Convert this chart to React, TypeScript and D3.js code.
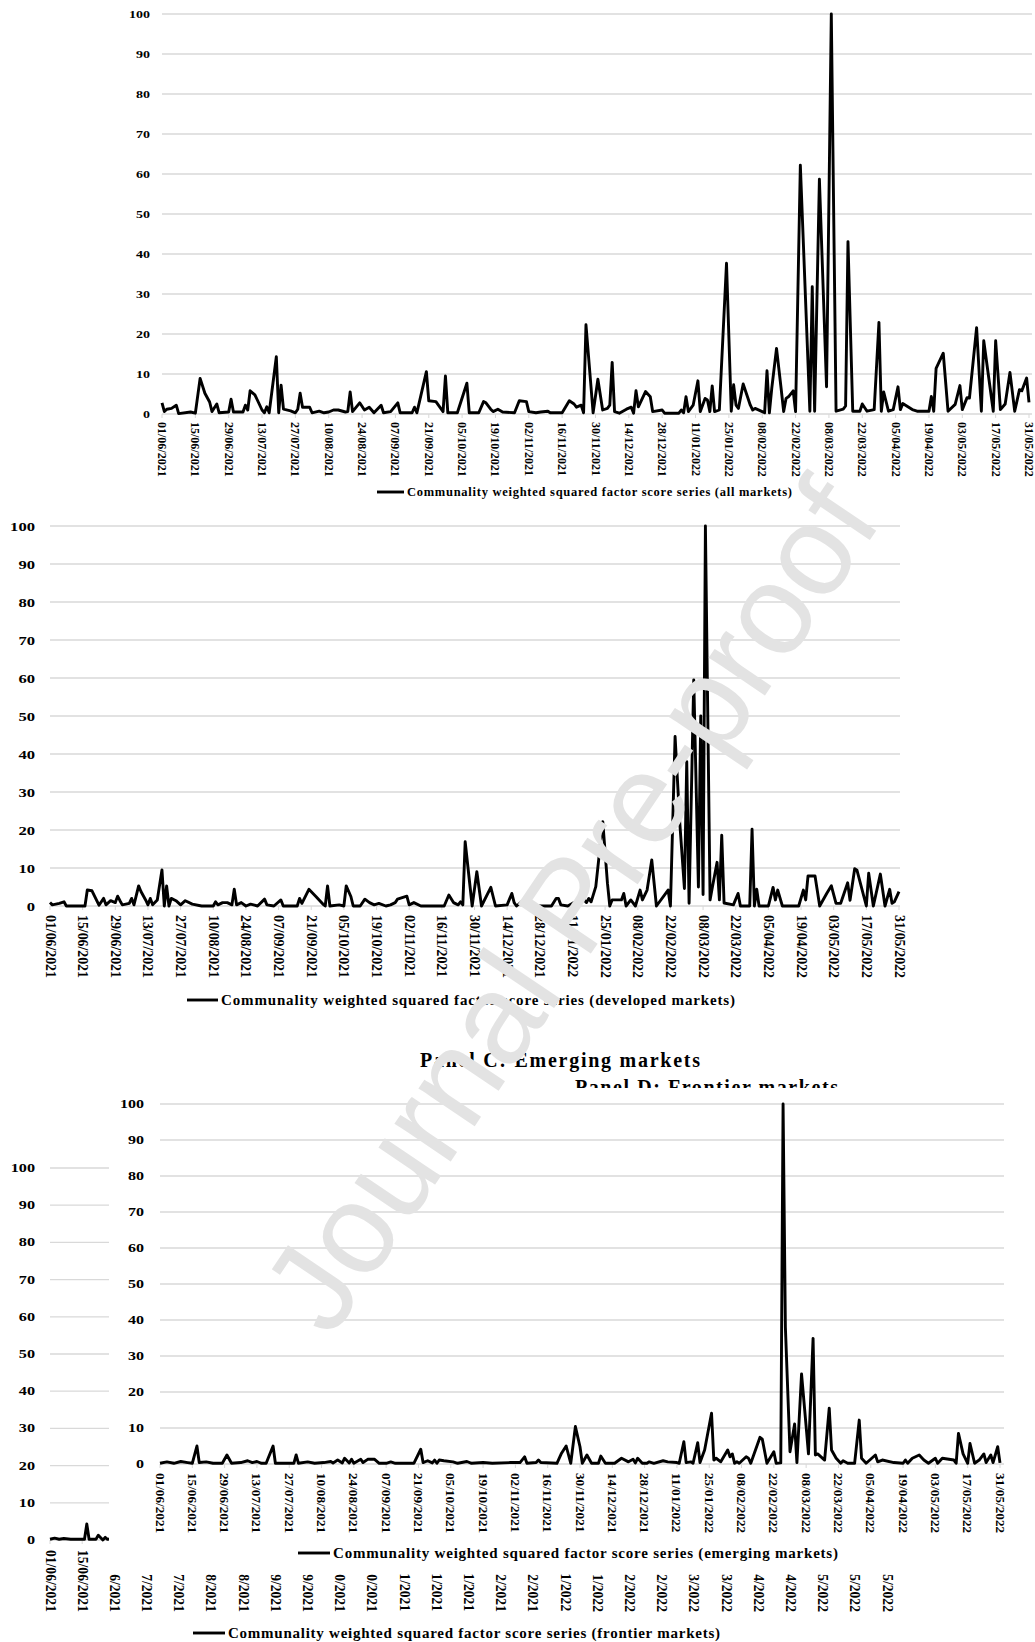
import React from 'react';
import * as d3 from 'd3';

// x-axis category labels, one every 14 days from 01/06/2021
const tickLabels = [
  '01/06/2021', '15/06/2021', '29/06/2021', '13/07/2021', '27/07/2021', '10/08/2021',
  '24/08/2021', '07/09/2021', '21/09/2021', '05/10/2021', '19/10/2021', '02/11/2021',
  '16/11/2021', '30/11/2021', '14/12/2021', '28/12/2021', '11/01/2022', '25/01/2022',
  '08/02/2022', '22/02/2022', '08/03/2022', '22/03/2022', '05/04/2022', '19/04/2022',
  '03/05/2022', '17/05/2022', '31/05/2022',
];
const yTicks = [0, 10, 20, 30, 40, 50, 60, 70, 80, 90, 100];

// [day since 01/06/2021, value]
const allMarkets: [number, number][] = [
  [0, 2.8], [1, 0.6], [2, 1.2], [4, 1.4], [6, 2.2], [7, 0.1], [12, 0.5], [14, 0.2], [16, 8.9], [18, 5.2],
  [20, 3], [21, 0.6], [23, 2.5], [24, 0.3], [28, 0.5], [29, 3.7], [30, 0.5], [34, 0.5], [35, 2.2], [36, 1],
  [37, 5.8], [39, 4.8], [42, 1], [43, 0.3], [44, 1.8], [45, 0.3], [48, 14.3], [49, 0.3], [50, 7.2], [51, 1.2],
  [54, 0.8], [56, 0.3], [57, 1.2], [58, 5.2], [59, 1.7], [62, 1.7], [63, 0.3], [66, 0.7], [68, 0.3], [70, 0.5],
  [72, 1], [74, 1], [77, 0.5], [78, 0.6], [79, 5.5], [80, 0.6], [83, 2.8], [85, 1], [87, 1.7], [89, 0.3],
  [92, 2.2], [93, 0.3], [96, 0.6], [99, 2.8], [100, 0.3], [105, 0.3], [106, 1.7], [107, 0.3], [111, 10.6], [112, 3.3],
  [115, 3.1], [118, 0.6], [119, 9.5], [120, 0.3], [124, 0.3], [128, 7.7], [129, 0.3], [133, 0.3], [135, 3.1], [136, 2.8],
  [138, 1.2], [139, 0.6], [141, 1.2], [143, 0.5], [148, 0.3], [150, 3.3], [153, 3.1], [154, 0.6], [157, 0.3], [159, 0.5],
  [162, 0.7], [163, 0.3], [168, 0.3], [171, 3.3], [173, 2.5], [174, 1.7], [176, 2.2], [177, 0.3], [178, 22.3], [181, 0.3],
  [183, 8.7], [185, 1], [187, 1.4], [188, 2.2], [189, 12.9], [190, 0.6], [192, 0.2], [195, 1.2], [197, 1.7], [198, 0.2],
  [199, 5.8], [200, 1.8], [203, 5.6], [205, 4.3], [206, 0.6], [210, 1], [211, 0.2], [217, 0.2], [218, 1], [219, 0.3],
  [220, 4.3], [221, 0.6], [223, 2.2], [225, 8.3], [226, 0.6], [228, 3.9], [229, 3.5], [230, 0.6], [231, 7], [232, 0.6],
  [234, 1], [237, 37.7], [239, 0.7], [240, 7.3], [241, 2.2], [242, 1.4], [244, 7.5], [247, 2.2], [248, 1], [249, 1.4],
  [252, 0.6], [253, 0.3], [254, 10.8], [255, 0.3], [256, 6.4], [258, 16.4], [260, 6], [261, 0.6], [262, 3.9], [263, 4.3],
  [265, 5.8], [266, 0.6], [268, 62.2], [272, 0.7], [273, 31.8], [274, 0.7], [276, 58.7], [279, 6.8], [281, 100], [283, 0.7],
  [286, 1.2], [287, 2], [288, 43.1], [290, 0.7], [293, 0.7], [294, 2.5], [296, 0.7], [299, 1.1], [301, 22.9], [302, 0.7],
  [303, 5.5], [305, 0.7], [307, 1.1], [309, 6.8], [310, 1.1], [311, 2.6], [315, 1.1], [317, 0.7], [322, 0.7], [323, 4.4],
  [324, 0.7], [325, 11.4], [328, 15.2], [330, 0.7], [333, 2.4], [335, 7.1], [336, 1.1], [338, 4.1], [339, 4], [342, 21.6],
  [344, 0.7], [345, 18.3], [349, 0.7], [350, 18.3], [352, 1.1], [354, 2.5], [356, 10.4], [358, 0.7], [360, 6.1], [361, 5.8],
  [363, 9], [364, 2.9],
];

const developedMarkets: [number, number][] = [
  [0, 0.9], [1, 0.3], [4, 0.7], [6, 1.1], [7, 0], [15, 0], [16, 4.2], [18, 4], [21, 0.2], [23, 2],
  [24, 0.3], [26, 1.4], [28, 0.9], [29, 2.6], [30, 1.4], [31, 0.3], [34, 0.7], [35, 2], [36, 0.3], [38, 5.3],
  [39, 3.8], [41, 1.6], [42, 0.3], [43, 2], [44, 0.3], [46, 1.6], [48, 9.5], [49, 0], [50, 5.3], [51, 0],
  [52, 2], [54, 1.4], [56, 0.3], [58, 1.4], [61, 0.5], [65, 0], [70, 0], [71, 1.1], [72, 0.3], [74, 0.9],
  [76, 0.9], [78, 0.3], [79, 4.4], [80, 0.3], [82, 0.9], [84, 0], [86, 0.5], [89, 0], [92, 1.8], [93, 0.3],
  [96, 0], [99, 1.6], [100, 0], [106, 0], [107, 2], [108, 0.7], [111, 4.4], [114, 2.5], [117, 0.5], [118, 0],
  [119, 5.3], [120, 0], [124, 0.3], [126, 0], [127, 5.3], [129, 2.5], [130, 0], [133, 0], [135, 1.8], [137, 0.9],
  [139, 0.3], [141, 0.7], [144, 0], [146, 0.3], [148, 0.9], [149, 1.8], [153, 2.6], [154, 0.3], [156, 0.9], [159, 0],
  [169, 0], [171, 2.9], [173, 0.9], [175, 0.3], [176, 1.1], [177, 0.3], [178, 16.9], [181, 0], [183, 9], [185, 0],
  [189, 4.9], [191, 0], [196, 0.3], [198, 3.3], [199, 0.9], [200, 0], [204, 2], [206, 0.5], [209, 0], [215, 0],
  [217, 2], [218, 2], [219, 0.3], [222, 0], [226, 1.4], [227, 0.9], [229, 1.6], [230, 0.9], [231, 2], [232, 1.1],
  [234, 5.1], [237, 22.2], [239, 6], [240, 0], [241, 1.6], [245, 1.6], [246, 3.3], [247, 0], [249, 1.6], [251, 0],
  [253, 4.2], [254, 1.6], [256, 4.2], [258, 12.1], [260, 0], [265, 4.2], [266, 0], [268, 44.6], [270, 22], [272, 4.6],
  [273, 38], [274, 0.7], [276, 59.5], [278, 5], [279, 50], [280, 3], [281, 100], [283, 1.6], [284, 5], [286, 11.5],
  [287, 1.6], [288, 18.6], [289, 0.8], [293, 0.3], [295, 3.3], [296, 0], [300, 0], [301, 20.2], [302, 0], [303, 4.4],
  [304, 0], [308, 0], [310, 4.9], [311, 1.6], [312, 4.2], [314, 0], [321, 0], [323, 4.2], [324, 1.6], [325, 7.9],
  [328, 7.9], [330, 0], [333, 3.3], [335, 5.3], [337, 0.7], [339, 0.7], [342, 6.1], [343, 1.5], [345, 9.8], [346, 9.4],
  [350, 0], [351, 8.6], [353, 0], [356, 8.4], [358, 0], [360, 4.4], [361, 0.7], [362, 1.1], [364, 3.8],
];

const emergingMarkets: [number, number][] = [
  [0, 0.2], [3, 0.6], [6, 0.2], [9, 0.7], [12, 0.4], [14, 0.2], [16, 5], [17, 0.4], [20, 0.6], [23, 0.2],
  [27, 0.2], [29, 2.5], [31, 0.2], [35, 0.4], [38, 0.9], [40, 0.4], [42, 0.7], [44, 0.2], [46, 0.2], [49, 5],
  [50, 0.2], [58, 0.2], [59, 2.5], [60, 0.2], [64, 0.6], [67, 0.2], [71, 0.4], [74, 0.7], [75, 0.3], [77, 1.1],
  [79, 0.3], [80, 1.6], [82, 0.3], [83, 1.3], [84, 0.2], [87, 1.3], [88, 0.4], [90, 1.3], [93, 1.3], [95, 0.2],
  [98, 0.2], [100, 0.6], [102, 0.2], [110, 0.2], [113, 4.1], [114, 0.4], [116, 0.9], [118, 0.3], [119, 1.1], [120, 0.2],
  [121, 1.1], [123, 0.9], [127, 0.6], [129, 0.2], [133, 0.7], [135, 0.2], [140, 0.4], [144, 0.2], [152, 0.4], [156, 0.4],
  [158, 2], [159, 0.2], [163, 0.4], [164, 1.1], [165, 0.4], [172, 0.2], [174, 3], [176, 5], [178, 0.2], [180, 10.4],
  [182, 4.8], [183, 0.2], [185, 2.5], [187, 0.2], [190, 0.2], [191, 2.2], [193, 0.2], [197, 0.2], [200, 1.6], [203, 0.6],
  [205, 1.3], [206, 0.3], [207, 1.6], [209, 0.2], [211, 0.2], [212, 0.6], [214, 0.2], [218, 0.9], [220, 0.6], [224, 0.4],
  [225, 0.2], [227, 6.2], [228, 0.4], [230, 0.6], [231, 0.2], [233, 5.9], [234, 0.4], [236, 3.9], [239, 14.1], [240, 1.1],
  [241, 1.6], [243, 0.6], [246, 3.9], [247, 2], [248, 2.8], [249, 0.2], [250, 0.6], [251, 0.2], [254, 2], [255, 1.6],
  [256, 0.2], [260, 7.4], [261, 6.9], [263, 0.2], [266, 3.4], [267, 0.2], [269, 0.3], [270, 100], [271, 38], [273, 3.4],
  [275, 11.1], [276, 0.4], [278, 25], [280, 10.4], [281, 2.8], [283, 34.9], [284, 2.5], [285, 2.8], [288, 1.1], [290, 15.5],
  [291, 3.9], [293, 1.6], [295, 0.2], [296, 0.9], [298, 0.2], [301, 0.2], [303, 12.2], [304, 1.6], [306, 0.2], [310, 2.5],
  [311, 0.6], [313, 1.1], [318, 0.4], [322, 0.2], [323, 1.1], [324, 0.2], [326, 1.6], [329, 2.5], [331, 1.1], [333, 0.2],
  [336, 1.6], [337, 0.2], [339, 1.6], [344, 1.1], [345, 0.2], [346, 8.5], [348, 2.8], [350, 0.2], [351, 5.7], [353, 0.2],
  [355, 1.1], [357, 2.8], [358, 0.4], [360, 2.5], [361, 0.4], [363, 4.8], [364, 0.3],
];

// only the first weeks of the frontier panel are visible, the rest lies under panel C
const frontierMarkets: [number, number][] = [
  [0, 0.2], [2, 0.5], [4, 0.2], [6, 0.4], [9, 0.2], [13, 0.2], [15, 0.2], [16, 4.3], [17, 0.2], [20, 0.2],
  [21, 1.3], [23, 0], [24, 0.7], [25, 0.2], [27, 0.3],
];

const SERIF = "'Times New Roman', 'Liberation Serif', serif";
const GRID = '#d9d9d9';

interface Legend { x1: number; x2: number; y: number; textX: number; baseline: number; font: number; len: number; label: string }
interface PanelProps {
  data: [number, number][];
  left: number; right: number; gridRight: number; top: number; bottom: number;
  yLabelX: number; yFont: number; yDigitW: number; xFont: number; xLabelY: number;
  legend: Legend;
}

const Panel: React.FC<PanelProps> = (p) => {
  const x = d3.scaleLinear().domain([0, 364]).range([p.left, p.right]);
  const y = d3.scaleLinear().domain([0, 100]).range([p.bottom, p.top]);
  const line = d3.line<[number, number]>().x(d => x(d[0])).y(d => y(d[1]));

  return (
    <g>
      {yTicks.map(t => (
        <g key={t}>
          <line x1={p.left} x2={p.gridRight} y1={y(t)} y2={y(t)} stroke={GRID} strokeWidth={1.3} />
          <text x={p.yLabelX} y={y(t)} textAnchor="end" dominantBaseline="central"
            fontFamily={SERIF} fontWeight="bold" fontSize={p.yFont}
            textLength={String(t).length * p.yDigitW} lengthAdjust="spacingAndGlyphs">{t}</text>
        </g>
      ))}
      {tickLabels.map((lab, i) => {
        const tx = x(i * 14);
        return (
          <g key={lab}>
            <line x1={tx} x2={tx} y1={p.bottom} y2={p.bottom + 4} stroke={GRID} strokeWidth={1} />
            <text transform={`translate(${tx},${p.xLabelY}) rotate(90)`} dominantBaseline="central"
              fontFamily={SERIF} fontWeight="bold" fontSize={p.xFont}>{lab}</text>
          </g>
        );
      })}
      <path d={line(p.data) ?? ''} fill="none" stroke="#000" strokeWidth={2.9} strokeLinejoin="round" />
      <line x1={p.legend.x1} x2={p.legend.x2} y1={p.legend.y} y2={p.legend.y} stroke="#000" strokeWidth={2.9} />
      <text x={p.legend.textX} y={p.legend.baseline} fontFamily={SERIF} fontWeight="bold"
        fontSize={p.legend.font} textLength={p.legend.len} lengthAdjust="spacing">{p.legend.label}</text>
    </g>
  );
};

const legendLabel = (m: string) => `Communality weighted squared factor score series (${m})`;

export default function App() {
  return (
    <svg width={1035} height={1642} style={{ position: 'absolute', left: 0, top: 0, background: '#fff' }}>
      <rect width={1035} height={1642} fill="#fff" />
      <Panel data={allMarkets} left={162} right={1029} gridRight={1032} top={14} bottom={414}
        yLabelX={150} yFont={10.5} yDigitW={7} xFont={12} xLabelY={422}
        legend={{ x1: 377, x2: 404, y: 492, textX: 407, baseline: 496, font: 12.5, len: 385, label: legendLabel('all markets') }} />
      <Panel data={developedMarkets} left={50} right={899} gridRight={900} top={526} bottom={906}
        yLabelX={35} yFont={13.5} yDigitW={8.3} xFont={13.8} xLabelY={915}
        legend={{ x1: 187, x2: 218, y: 1000, textX: 221, baseline: 1005, font: 15, len: 514, label: legendLabel('developed markets') }} />

      <Panel data={frontierMarkets} left={50} right={887} gridRight={890} top={1168} bottom={1540}
        yLabelX={35} yFont={12} yDigitW={8.1} xFont={13.6} xLabelY={1550}
        legend={{ x1: 193, x2: 225, y: 1633, textX: 228, baseline: 1638, font: 15, len: 492, label: legendLabel('frontier markets') }} />
      <text x={575} y={1094} fontFamily={SERIF} fontWeight="bold" fontSize={20} textLength={263}
        lengthAdjust="spacing">Panel D: Frontier markets</text>

      {/* panel C image sits over panel D */}
      <rect x={109} y={1088} width={926} height={486} fill="#fff" />
      <Panel data={emergingMarkets} left={160} right={1000} gridRight={1004} top={1104} bottom={1464}
        yLabelX={144} yFont={12} yDigitW={8} xFont={13.2} xLabelY={1473}
        legend={{ x1: 298, x2: 330, y: 1553, textX: 333, baseline: 1558, font: 15, len: 505, label: legendLabel('emerging markets') }} />
      <text x={420} y={1067} fontFamily={SERIF} fontWeight="bold" fontSize={20} textLength={280}
        lengthAdjust="spacing">Panel C: Emerging markets</text>

      <text transform="translate(570,905) rotate(-56)" textAnchor="middle" dominantBaseline="central"
        fontFamily="'Liberation Sans', Arial, sans-serif" fontSize={128} fill="#e3e3e3">Journal Pre-proof</text>
    </svg>
  );
}
